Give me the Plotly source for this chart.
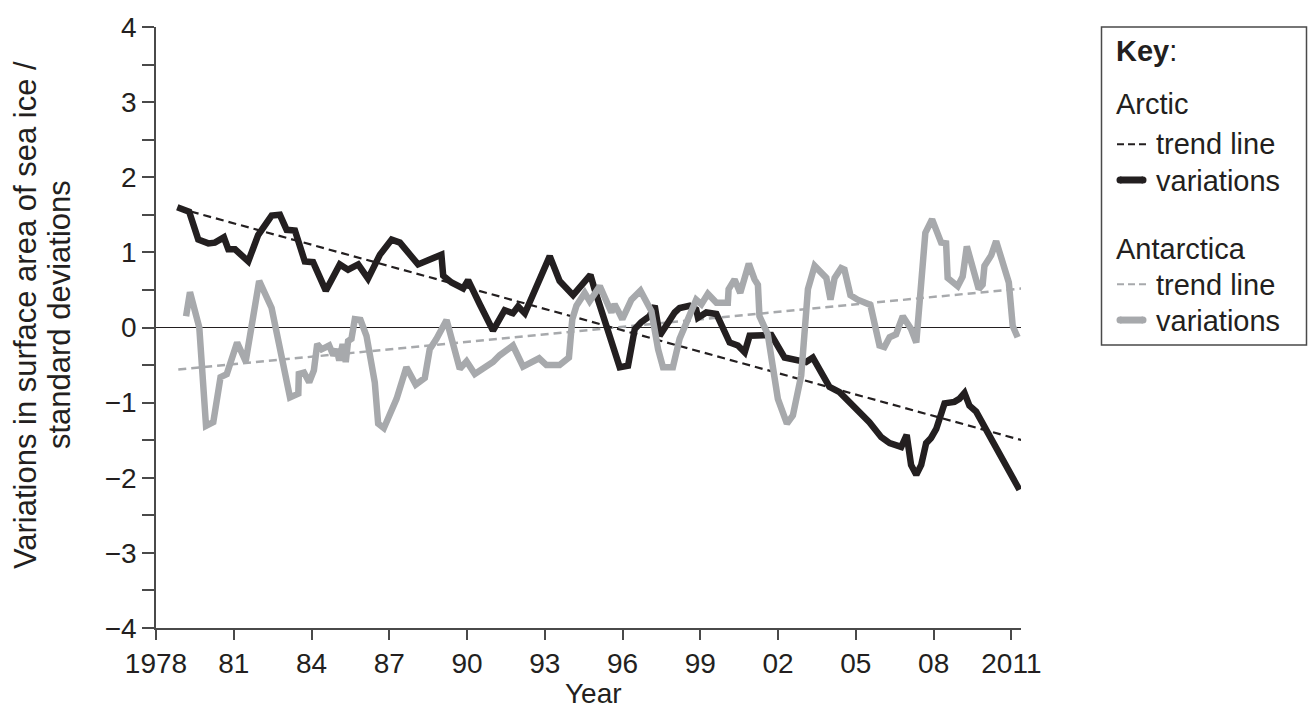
import plotly.graph_objects as go

# ---------------- data ----------------
arctic_years = [1978.82, 1979.28, 1979.63, 1980.02, 1980.27, 1980.62, 1980.79, 1981.05, 1981.56, 1981.94,
                1982.46, 1982.78, 1983.04, 1983.36, 1983.74, 1984.06, 1984.55, 1985.09, 1985.41, 1985.80,
                1986.18, 1986.64, 1987.09, 1987.41, 1988.11, 1989.01, 1989.08, 1989.40, 1989.85, 1990.04,
                1990.49, 1991.00, 1991.45, 1991.77, 1991.97, 1992.23, 1993.19, 1993.57, 1994.09, 1994.76,
                1994.92, 1995.89, 1996.21, 1996.47, 1996.72, 1997.04, 1997.24, 1997.43, 1998.01, 1998.20,
                1998.59, 1998.84, 1998.91, 1999.23, 1999.62, 2000.13, 2000.45, 2000.71, 2000.90, 2001.54,
                2001.74, 2002.25, 2002.70, 2003.08, 2003.34, 2003.98, 2004.37, 2004.88, 2005.52, 2005.98,
                2006.30, 2006.75, 2006.96, 2007.13, 2007.33, 2007.52, 2007.71, 2007.90, 2008.10, 2008.42,
                2008.80, 2008.99, 2009.19, 2009.38, 2009.64, 2010.28, 2011.31]
arctic_values = [1.60, 1.54, 1.17, 1.12, 1.13, 1.20, 1.04, 1.04, 0.88, 1.23,
                 1.49, 1.50, 1.30, 1.29, 0.88, 0.87, 0.49, 0.84, 0.77, 0.84,
                 0.65, 0.97, 1.17, 1.13, 0.84, 0.97, 0.69, 0.60, 0.52, 0.63,
                 0.31, -0.04, 0.23, 0.19, 0.28, 0.19, 0.95, 0.62, 0.43, 0.70,
                 0.51, -0.53, -0.51, -0.02, 0.07, 0.15, 0.29, -0.11, 0.20, 0.26,
                 0.29, 0.24, 0.13, 0.20, 0.18, -0.20, -0.24, -0.33, -0.11, -0.10,
                 -0.10, -0.40, -0.43, -0.46, -0.40, -0.79, -0.86, -1.04, -1.26, -1.46,
                 -1.54, -1.59, -1.43, -1.83, -1.96, -1.83, -1.54, -1.47, -1.35, -1.01,
                 -0.99, -0.95, -0.87, -1.04, -1.12, -1.52, -2.16]

antarctic_years = [1979.16, 1979.31, 1979.67, 1979.93, 1980.21, 1980.49, 1980.73, 1981.13, 1981.46, 1981.75,
                   1981.98, 1982.46, 1983.17, 1983.49, 1983.51, 1983.71, 1983.91, 1984.09, 1984.22, 1984.39,
                   1984.68, 1984.84, 1984.97, 1985.07, 1985.20, 1985.32, 1985.41, 1985.54, 1985.67, 1985.89,
                   1986.12, 1986.44, 1986.57, 1986.79, 1987.28, 1987.66, 1988.02, 1988.37, 1988.56, 1988.82,
                   1989.21, 1989.72, 1989.98, 1990.30, 1990.75, 1991.00, 1991.26, 1991.77, 1992.16, 1992.78,
                   1993.06, 1993.57, 1993.93, 1994.06, 1994.22, 1994.54, 1994.73, 1995.12, 1995.57, 1995.69,
                   1995.89, 1995.99, 1996.34, 1996.69, 1997.11, 1997.37, 1997.56, 1997.94, 1998.20, 1998.46,
                   1998.84, 1999.04, 1999.29, 1999.62, 2000.06, 2000.09, 2000.32, 2000.54, 2000.87, 2001.09,
                   2001.22, 2001.28, 2001.60, 2001.99, 2002.34, 2002.57, 2002.89, 2003.09, 2003.15, 2003.41,
                   2003.86, 2004.02, 2004.18, 2004.43, 2004.56, 2004.79, 2005.07, 2005.56, 2005.91, 2006.10,
                   2006.30, 2006.55, 2006.81, 2007.13, 2007.33, 2007.68, 2007.94, 2008.29, 2008.48, 2008.54,
                   2008.93, 2009.12, 2009.28, 2009.74, 2009.89, 2009.96, 2010.22, 2010.41, 2010.90, 2011.05,
                   2011.24]
antarctic_values = [0.15, 0.47, 0.00, -1.31, -1.26, -0.66, -0.62, -0.20, -0.45, 0.11,
                    0.62, 0.26, -0.93, -0.88, -0.62, -0.60, -0.73, -0.57, -0.22, -0.29,
                    -0.24, -0.37, -0.29, -0.44, -0.22, -0.46, -0.18, -0.15, 0.11, 0.10,
                    -0.11, -0.73, -1.28, -1.34, -0.95, -0.53, -0.76, -0.67, -0.29, -0.15,
                    0.10, -0.55, -0.45, -0.62, -0.53, -0.46, -0.37, -0.24, -0.52, -0.41,
                    -0.50, -0.50, -0.40, 0.11, 0.29, 0.46, 0.35, 0.55, 0.20, 0.31,
                    0.18, 0.11, 0.37, 0.49, 0.22, -0.29, -0.53, -0.53, -0.15, 0.07,
                    0.37, 0.31, 0.45, 0.33, 0.33, 0.51, 0.64, 0.46, 0.85, 0.64,
                    0.57, 0.15, -0.09, -0.95, -1.28, -1.17, -0.64, 0.24, 0.51, 0.82,
                    0.66, 0.37, 0.66, 0.79, 0.77, 0.43, 0.37, 0.30, -0.24, -0.26,
                    -0.13, -0.09, 0.15, -0.02, -0.20, 1.26, 1.44, 1.13, 1.12, 0.66,
                    0.55, 0.68, 1.08, 0.51, 0.57, 0.82, 0.96, 1.15, 0.60, 0.02,
                    -0.13]

trend_years = [1978.86, 2011.40]
arctic_trend = [1.59, -1.50]
antarctic_trend = [-0.56, 0.52]

tick_years = [1978, 1981, 1984, 1987, 1990, 1993, 1996, 1999, 2002, 2005, 2008, 2011]
tick_labels = ["1978", "81", "84", "87", "90", "93", "96", "99", "02", "05", "08", "2011"]

# ---------------- style ----------------
BLACK = "#231f20"
GREY = "#a7a9ac"
AXIS = "#4a4a4a"
FONT = "Liberation Sans, Arial, sans-serif"
FS_TICK = 28
FS_KEY = 29
FS_YTITLE = 31

W, H = 1309, 711
L, R, T, B = 156, 288, 23, 83
PW, PH = W - L - R, H - T - B


def px(xp):
    return (xp - L) / PW


def py(yp):
    return (H - B - yp) / PH


fig = go.Figure()
fig.add_trace(go.Scatter(x=trend_years, y=antarctic_trend, mode="lines",
                         line=dict(color=GREY, width=2.5, dash="8px,5px"), showlegend=False))
fig.add_trace(go.Scatter(x=trend_years, y=arctic_trend, mode="lines",
                         line=dict(color=BLACK, width=2.2, dash="8px,5px"), showlegend=False))
fig.add_trace(go.Scatter(x=arctic_years, y=arctic_values, mode="lines",
                         line=dict(color=BLACK, width=6.5), showlegend=False))
fig.add_trace(go.Scatter(x=antarctic_years, y=antarctic_values, mode="lines",
                         line=dict(color=GREY, width=6.5), showlegend=False))

fig.update_layout(
    width=W, height=H,
    margin=dict(l=L, r=R, t=T, b=B, pad=0),
    paper_bgcolor="white", plot_bgcolor="white",
    font=dict(family=FONT, size=FS_TICK, color=BLACK),
    xaxis=dict(range=[1978, 2011.37], tickmode="array", tickvals=tick_years, ticktext=tick_labels,
               showline=True, linecolor=AXIS, linewidth=1.5, ticks="outside", ticklen=10,
               tickwidth=1.5, tickcolor=AXIS, showgrid=False, zeroline=False,
               tickfont=dict(size=FS_TICK, color=BLACK)),
    yaxis=dict(range=[-4, 4], tickmode="linear", tick0=0, dtick=1,
               showline=True, linecolor=AXIS, linewidth=1.5, ticks="outside", ticklen=12,
               tickwidth=1.5, tickcolor=AXIS, showgrid=False,
               zeroline=True, zerolinecolor=BLACK, zerolinewidth=1.2,
               minor=dict(ticks="outside", ticklen=12, tickwidth=1.5, tickcolor=AXIS, dtick=0.5, showgrid=False),
               tickfont=dict(size=FS_TICK, color=BLACK)),
)

ann = []
for txt, xc in [("Variations in surface area of sea ice /", 25), ("standard deviations", 59)]:
    ann.append(dict(text=txt, textangle=-90, xref="paper", yref="paper", x=px(xc), y=py(313),
                    xanchor="center", yanchor="middle", showarrow=False, font=dict(size=FS_YTITLE)))
ann.append(dict(text="Year", xref="paper", yref="paper", x=px(593), y=py(694),
                xanchor="center", yanchor="middle", showarrow=False, font=dict(size=FS_TICK)))

KX = 1114
TX = 1154
rows = [("<b>Key</b>:", KX, 47), ("Arctic", KX, 101), ("trend line", TX, 141), ("variations", TX, 178),
        ("Antarctica", KX, 246), ("trend line", TX, 283), ("variations", TX, 319)]
for txt, x, y in rows:
    ann.append(dict(text=txt, xref="paper", yref="paper", x=px(x), y=py(y), xanchor="left",
                    yanchor="middle", showarrow=False, font=dict(size=FS_KEY)))
fig.update_layout(annotations=ann)

shapes = []
# key box
shapes.append(dict(type="rect", xref="paper", yref="paper", x0=px(1101.5), x1=px(1306.5), y0=py(23), y1=py(343),
                   line=dict(color=AXIS, width=1.5), fillcolor="rgba(0,0,0,0)"))
# trend samples
for yy, col in [(141, BLACK), (282, GREY)]:
    shapes.append(dict(type="line", xref="paper", yref="paper", x0=px(1117), x1=px(1147), y0=py(yy), y1=py(yy),
                       line=dict(color=col, width=2, dash="7px,4px")))
# variation samples (rounded)
for yy, col in [(177, BLACK), (318, GREY)]:
    shapes.append(dict(type="line", xref="paper", yref="paper", x0=px(1120), x1=px(1143), y0=py(yy), y1=py(yy),
                       line=dict(color=col, width=7)))
    for xx in (1120, 1143):
        shapes.append(dict(type="circle", xref="paper", yref="paper", xsizemode="pixel", ysizemode="pixel",
                           xanchor=px(xx), yanchor=py(yy), x0=-3.5, x1=3.5, y0=-3.5, y1=3.5,
                           fillcolor=col, line=dict(width=0)))
fig.update_layout(shapes=shapes)

fig.write_html("out.html", config={"displayModeBar": False},
               post_script="document.body.style.margin='0px';document.body.style.overflow='hidden';")
